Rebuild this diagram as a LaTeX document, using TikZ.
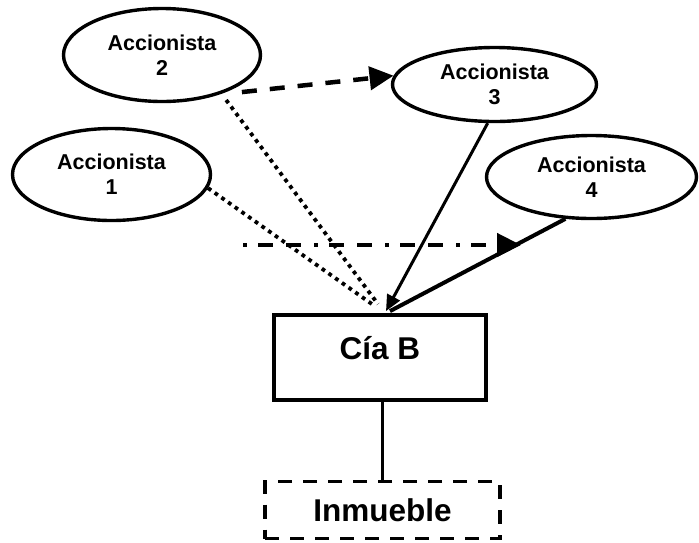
\documentclass[tikz,border=0pt]{standalone}
\usepackage{fontspec}
\setmainfont{Liberation Sans}
\usetikzlibrary{shapes.geometric,arrows.meta,calc}
\begin{document}
\begin{tikzpicture}[x=1pt,y=-1pt,
  holder/.style={ellipse,draw,line width=3.4pt,inner sep=0pt,align=center,
    font=\fontsize{21.5}{25}\selectfont\bfseries},
  company/.style={draw,line width=3.8pt,minimum width=212pt,minimum height=85pt,
    inner sep=0pt,text height=12pt,text depth=8pt,
    font=\fontsize{31.5}{36}\selectfont\bfseries},
  asset/.style={draw,line width=3.4pt,dash pattern=on 14pt off 11pt,
    minimum width=235pt,minimum height=57pt,inner sep=0pt,
    font=\fontsize{31.5}{36}\selectfont\bfseries},
  owns/.style={line width=3pt},
  strongowns/.style={line width=4pt},
  dashlink/.style={line width=4.5pt,dash pattern=on 15pt off 13pt},
  dotlink/.style={line width=3.8pt,dash pattern=on 3.8pt off 4.4pt},
  bigtip/.style={-{Triangle[length=24pt,width=23pt]}},
  smalltip/.style={-{Triangle[length=16pt,width=14pt]}}
]
\useasboundingbox (0,0) rectangle (699,542);

% shareholders
\node[holder,minimum width=197pt,minimum height=93pt] (e2) at (162,55) {Accionista\\2};
\node[holder,minimum width=204pt,minimum height=74pt] (e3) at (494.5,84.5) {Accionista\\3};
\node[holder,minimum width=198pt,minimum height=92pt] (e1) at (111.5,174.5) {Accionista\\1};
\node[holder,minimum width=210pt,minimum height=83pt] (e4) at (591.5,177) {Accionista\\4};

% company and its property
\node[company] (cia) at (380,357.5) {Cía B};
\node[asset] (inm) at (382.5,510) {Inmueble};

% transfer of shares
\draw[dashlink,bigtip] ($(e2.-20)+(0,8)$) -- (e3.175);

% ownership links
\draw[dotlink] ($(e2.-30)+(0,8)$) -- ($(cia.north)+(-2,-9)$);
\draw[dotlink] (e1.-8) -- ($(cia.north)+(-8,-9)$);
\draw[owns,smalltip] (e3.-100) -- ($(cia.north)+(6,-2)$);
\draw[strongowns] (e4.-122) -- ($(cia.north)+(10,-2)$);

% dashed arrow onto the link of shareholder 4
\coordinate (hstart) at (243,245);
\coordinate (hend) at (521,245);
\draw[dashlink,bigtip,dash pattern=on 4pt off 11pt on 15pt off 13pt on 15pt off 13pt] (hstart) -- (hend);

% company owns the property
\draw[line width=3pt] (inm.north |- cia.south) -- (inm.north);
\end{tikzpicture}
\end{document}
